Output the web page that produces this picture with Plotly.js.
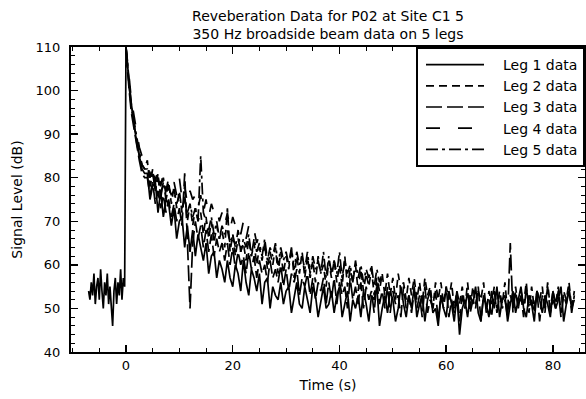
<!DOCTYPE html>
<html>
<head>
<meta charset="utf-8">
<script src="https://cdn.plot.ly/plotly-3.0.1.min.js"></script>
<style>html,body{margin:0;padding:0;background:#fff;}#chart{width:586px;height:399px;}</style>
</head>
<body>
<div id="chart"></div>
<script>
// Time samples (s)
var TIME_PRE = [-7,-6.75,-6.5,-6.25,-6,-5.75,-5.5,-5.25,-5,-4.75,-4.5,-4.25,-4,-3.75,
  -3.5,-3.25,-3,-2.75,-2.5,-2.25,-2,-1.75,-1.5,-1.25,-1,-0.75,-0.5,-0.25];
var TIME_EARLY = [0,0.3,0.6,1,1.5,2,2.5,3,3.5];
var TIME_HALF = [4,4.5,5,5.5,6,6.5,7,7.5,8,8.5,
  9,9.5,10,10.5,11,11.5,12,12.5,13,13.5,
  14,14.5,15,15.5,16,16.5,17,17.5,18,18.5,
  19,19.5,20,20.5,21,21.5,22,22.5,23,23.5,
  24,24.5,25,25.5,26,26.5,27,27.5,28,28.5,
  29,29.5,30,30.5,31,31.5,32,32.5,33,33.5,
  34,34.5,35,35.5,36,36.5,37,37.5,38,38.5,
  39,39.5,40,40.5,41,41.5,42,42.5,43,43.5,
  44,44.5,45,45.5,46,46.5,47,47.5,48,48.5,
  49,49.5,50,50.5,51,51.5,52,52.5,53,53.5,
  54,54.5,55,55.5,56,56.5,57,57.5,58,58.5,
  59,59.5,60,60.5,61,61.5,62,62.5,63,63.5,
  64,64.5,65,65.5,66,66.5,67,67.5,68,68.5,
  69,69.5,70,70.5,71,71.5,72,72.5,73,73.5,
  74,74.5,75,75.5,76,76.5,77,77.5,78,78.5,
  79,79.5,80,80.5,81,81.5,82,82.5,83,83.5,
  84];

// Signal level (dB) per leg
var LEG1_PRE = [54,52,56,53,58,51,55,57,52,59,54,50,56,53,58,51,55,49,46,54,57,51,56,53,59,52,57,55];
var LEG1_EARLY = [110,106,101,97,92,88,85,82,81];
var LEG1 = [81,75,78,79,72,77,71,75,74,69,
  73,66,70,71,64,69,63,68,62,67,
  64,61,65,58,62,63,57,61,59,56,
  61,57,55,60,58,54,61,56,53,59,
  57,54,58,51,56,57,50,55,53,52,
  56,51,54,55,49,53,56,51,50,55,
  52,49,55,53,48,52,55,50,51,54,
  49,53,55,48,51,54,47,52,50,53,
  48,54,51,47,53,52,55,46,50,53,
  49,54,52,47,50,55,51,48,53,50,
  55,48,51,53,47,52,54,49,50,46,
  53,50,48,54,51,47,53,44,50,52,
  48,53,51,55,49,47,53,51,48,54,
  50,55,48,52,53,47,51,54,49,52,
  55,50,48,53,51,47,54,52,49,53,
  51,48,54,50,52,55,47,51,54,50,
  52];
var LEG2_EARLY = [110,105,101,96,92,88,85,83,82];
var LEG2 = [84,78,82,77,81,75,80,76,79,74,
  78,73,77,72,76,70,74,69,73,70,
  72,67,71,66,70,65,69,66,68,64,
  73,63,67,62,66,63,65,61,66,62,
  65,60,64,61,65,59,63,60,64,58,
  63,58,62,59,64,57,62,58,63,57,
  62,57,61,56,62,58,60,55,61,57,
  61,56,60,55,62,55,59,56,60,54,
  59,54,58,55,59,53,57,54,58,53,
  58,53,57,52,58,54,56,52,57,53,
  57,52,56,51,57,53,55,50,56,52,
  56,51,55,52,56,50,54,51,55,50,
  56,50,55,51,54,52,56,49,54,51,
  55,50,54,51,56,49,53,51,55,50,
  54,51,56,49,55,50,54,52,55,49,
  56,50,54,51,55,49,54,52,56,50,
  54];
var LEG3_EARLY = [109,104,100,95,91,87,84,81,80];
var LEG3 = [80,76,79,74,77,73,76,72,75,71,
  74,70,73,69,81,66,50,65,70,66,
  69,64,68,63,67,62,66,63,65,61,
  65,60,64,59,63,60,62,58,63,59,
  62,57,61,58,60,56,61,57,59,56,
  60,55,59,54,58,56,59,53,57,55,
  58,53,57,52,56,54,57,51,56,52,
  57,51,56,53,55,50,57,52,55,51,
  56,50,55,52,54,49,56,51,54,50,
  55,49,54,51,53,48,55,50,53,49,
  54,50,53,48,55,49,52,50,54,47,
  53,50,55,48,52,49,54,47,53,50,
  54,49,52,50,55,47,53,50,52,48,
  54,49,53,50,52,48,65,49,54,50,
  53,48,55,50,52,49,54,47,53,50,
  55,49,52,50,54,48,53,51,55,49,
  53];
var LEG4_EARLY = [110,107,103,98,94,90,87,85,84];
var LEG4 = [84,80,83,79,82,78,81,77,80,78,
  79,76,80,75,78,74,77,75,76,73,
  76,72,75,71,74,72,73,70,72,69,
  72,68,71,69,70,67,70,66,69,67,
  68,65,67];
var LEG5_EARLY = [110,106,102,97,93,89,86,83,82];
var LEG5 = [82,78,81,77,80,76,79,75,78,76,
  77,74,76,73,75,72,74,71,73,70,
  85,72,70,68,71,67,70,66,69,67,
  68,65,67,64,68,63,66,64,67,62,
  66,63,65,62,66,61,64,62,65,60,
  64,61,63,60,64,59,63,60,62,59,
  63,58,62,59,61,58,63,57,62,58,
  61,58,63,57,61,58,60,56,61,57,
  60,56,59,57,60,55,59,56,58];

var LEG_NAMES = ['Leg 1 data','Leg 2 data','Leg 3 data','Leg 4 data','Leg 5 data'];

var dashes = ['solid','8px,5px','16px,5px','14px,18px','12px,4px,3px,4px'];

var traces = [
  {x: TIME_PRE.concat(TIME_EARLY, TIME_HALF), y: LEG1_PRE.concat(LEG1_EARLY, LEG1)},
  {x: TIME_EARLY.concat(TIME_HALF), y: LEG2_EARLY.concat(LEG2)},
  {x: TIME_EARLY.concat(TIME_HALF), y: LEG3_EARLY.concat(LEG3)},
  {x: TIME_EARLY.concat(TIME_HALF.slice(0, LEG4.length)), y: LEG4_EARLY.concat(LEG4)},
  {x: TIME_EARLY.concat(TIME_HALF.slice(0, LEG5.length)), y: LEG5_EARLY.concat(LEG5)}
].map(function(t, i){
  return {x: t.x, y: t.y, type: 'scatter', mode: 'lines', name: LEG_NAMES[i],
    line: {color: '#000', width: 1.7, dash: dashes[i]}};
});

var FONT = 'DejaVu Sans, Verdana, sans-serif';

var layout = {
  width: 586, height: 399,
  margin: {l: 71, r: 1, t: 47, b: 47},
  paper_bgcolor: '#fff', plot_bgcolor: '#fff',
  font: {family: FONT, size: 13, color: '#000'},
  title: {text: 'Reveberation Data for P02 at Site C1 5<br>350 Hz broadside beam data on 5 legs',
    font: {family: FONT, size: 14, color: '#000'}, x: 0.5, xref: 'paper', xanchor: 'center',
    y: 0.948, yref: 'container', yanchor: 'top'},
  showlegend: true,
  legend: {x: 1, xanchor: 'right', y: 1, yanchor: 'top', bgcolor: '#fff',
    bordercolor: '#000', borderwidth: 2, font: {family: FONT, size: 14, color: '#000'},
    itemwidth: 75, tracegroupgap: 0},
  xaxis: {range: [-10.3, 86], tick0: 0, dtick: 20, ticks: 'inside', ticklen: 7, tickwidth: 1.5,
    tickcolor: '#000', showline: true, linecolor: '#000', linewidth: 2, mirror: 'ticks',
    showgrid: false, zeroline: false,
    minor: {dtick: 5, tick0: 0, ticks: 'inside', ticklen: 4, tickwidth: 1, tickcolor: '#000', showgrid: false},
    title: {text: 'Time (s)', font: {family: FONT, size: 14, color: '#000'}, standoff: 9},
    tickfont: {family: FONT, size: 13, color: '#000'}},
  yaxis: {range: [40, 110], tick0: 40, dtick: 10, ticks: 'inside', ticklen: 7, tickwidth: 1.5,
    tickcolor: '#000', showline: true, linecolor: '#000', linewidth: 2, mirror: 'ticks',
    showgrid: false, zeroline: false, ticklabelstandoff: 6,
    minor: {dtick: 2, tick0: 40, ticks: 'inside', ticklen: 4, tickwidth: 1, tickcolor: '#000', showgrid: false},
    title: {text: 'Signal Level (dB)', font: {family: FONT, size: 14, color: '#000'}, standoff: 10},
    tickfont: {family: FONT, size: 13, color: '#000'}}
};

Plotly.newPlot('chart', traces, layout, {staticPlot: true, displayModeBar: false}).then(function(gd){
  // lengthen the legend line samples to match the reference key
  var paths = gd.querySelectorAll('.legend .legendlines path');
  for (var i = 0; i < paths.length; i++) paths[i].setAttribute('d', 'M8,0h58');
});
</script>
</body>
</html>
